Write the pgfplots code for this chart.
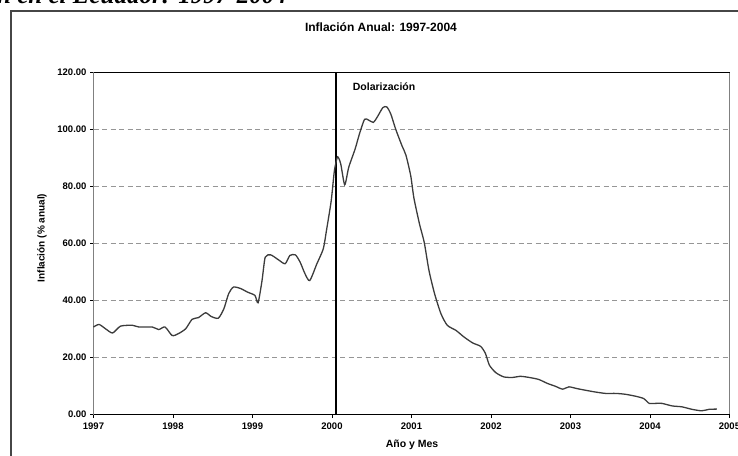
\documentclass[border=0pt]{standalone}
\usepackage{pgfplots}
\pgfplotsset{compat=1.18}
\usepackage{fontspec}
\setmainfont{Liberation Sans}
\newfontfamily\capfont{Liberation Serif}
\definecolor{curve}{RGB}{60,60,60}
\definecolor{gridc}{RGB}{150,150,150}
\definecolor{framec}{RGB}{70,70,70}
\begin{document}
\begin{tikzpicture}[x=1pt,y=1pt]
\useasboundingbox (0,0) rectangle (738,455);
\clip (0,0) rectangle (738,455);
\draw[line width=1.5pt, framec] (11,-20) -- (11,444) -- (760,444);
\node[anchor=base east, inner sep=0pt, font=\capfont\bfseries\itshape\fontsize{25}{25}\selectfont] at (287,451) {Inflación en el Ecuador: 1997-2004};
\begin{axis}[
  at={(93.5pt,40.5pt)}, anchor=south west,
  width=636pt, height=342pt, scale only axis,
  xmin=1997, xmax=2005, ymin=0, ymax=120,
  xtick={1997,1998,...,2005}, ytick={0,20,...,120},
  tick pos=left, tick align=outside, major tick length=3.5pt,
  tick style={black, line width=0.9pt},
  axis line style={gray, line width=1.2pt},
  ymajorgrids,
  major grid style={gridc, line width=1.1pt, dash pattern=on 5pt off 3.5pt},
  /pgf/number format/assume math mode=true,
  ticklabel style={font=\bfseries\fontsize{9.5}{10}\selectfont},
  xticklabel style={/pgf/number format/set thousands separator={}, yshift=-1pt},
  yticklabel style={/pgf/number format/.cd, fixed, fixed zerofill, precision=2},
  title={Inflación Anual: 1997-2004},
  title style={at={(axis description cs:0.452,1.1146)}, anchor=center, font=\bfseries\fontsize{12}{13}\selectfont},
  xlabel={Año y Mes},
  xlabel style={at={(axis description cs:0.5008,-0.0892)}, anchor=center, font=\bfseries\fontsize{10.5}{11}\selectfont},
  ylabel={Inflación (\% anual)},
  ylabel style={at={(axis description cs:-0.081,0.516)}, anchor=center, font=\bfseries\fontsize{10}{11}\selectfont},
  clip=false,
]
\draw[black, line width=1.3pt] (rel axis cs:0,1) -- (rel axis cs:1,1);
\draw[black, line width=1.3pt] (rel axis cs:0,0) -- (rel axis cs:1,0);
\addplot[black, line width=1.4pt] coordinates {(2000.05,0) (2000.05,120)};
\addplot[curve, line width=1.3pt, smooth, tension=0.4] coordinates {
(1997.00,30.7) (1997.07,31.6) (1997.15,30.1) (1997.24,28.6) (1997.34,31.0)
(1997.49,31.3) (1997.57,30.7) (1997.74,30.7) (1997.82,29.8) (1997.90,30.7)
(1997.99,27.7) (1998.07,28.4) (1998.16,30.1) (1998.24,33.4) (1998.32,34.0)
(1998.41,35.7) (1998.48,34.4) (1998.57,33.8) (1998.64,37.1) (1998.70,42.4)
(1998.76,44.7) (1998.85,44.2) (1998.94,42.9) (1999.03,41.8) (1999.07,39.2)
(1999.12,47.0) (1999.16,55.2) (1999.23,56.0) (1999.32,54.4) (1999.41,52.9)
(1999.47,55.8) (1999.54,56.0) (1999.60,53.4) (1999.66,49.4) (1999.72,47.0)
(1999.81,52.9) (1999.89,58.1) (1999.93,64.5) (1999.99,75.0) (2000.03,85.5)
(2000.07,90.4) (2000.11,87.9) (2000.16,80.6) (2000.21,86.7) (2000.29,93.1)
(2000.35,98.9) (2000.41,103.6) (2000.46,103.3) (2000.52,102.5) (2000.57,104.4)
(2000.64,107.7) (2000.69,107.9) (2000.74,105.4) (2000.80,100.2) (2000.88,94.3)
(2000.93,91.0) (2000.99,83.8) (2001.03,76.0) (2001.10,66.9) (2001.16,60.4)
(2001.22,50.5) (2001.29,42.4) (2001.37,35.4) (2001.45,31.3) (2001.56,29.5)
(2001.66,27.2) (2001.77,25.1) (2001.87,23.9) (2001.93,21.4) (2001.98,17.3)
(2002.06,14.7) (2002.16,13.2) (2002.27,13.0) (2002.37,13.4) (2002.48,13.0)
(2002.60,12.3) (2002.71,10.9) (2002.81,9.9) (2002.90,8.9) (2002.98,9.7)
(2003.08,9.1) (2003.19,8.5) (2003.31,7.9) (2003.44,7.4) (2003.57,7.4)
(2003.69,7.1) (2003.82,6.4) (2003.92,5.6) (2003.99,3.9) (2004.07,3.9)
(2004.15,3.9) (2004.28,3.0) (2004.40,2.7) (2004.53,1.8) (2004.65,1.3)
(2004.74,1.8) (2004.84,1.9)
};
\node[anchor=west, inner sep=0pt, font=\bfseries\fontsize{10.5}{11}\selectfont] at (axis cs:2000.26,115) {Dolarización};
\end{axis}
\end{tikzpicture}
\end{document}
